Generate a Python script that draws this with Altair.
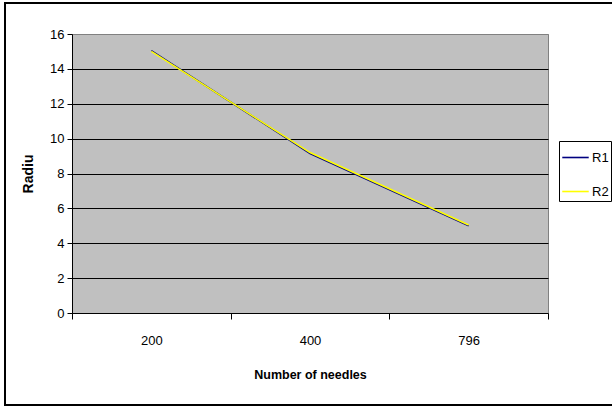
import altair as alt
import pandas as pd

needles = ["200", "400", "796"]
r1 = [15.05, 9.15, 5.0]
r2 = [15.0, 9.2, 5.05]
series_names = ["R1", "R2"]
series_colors = ["#000080", "#FFFF00"]

rows = []
for name, vals in zip(series_names, [r1, r2]):
    for n, v in zip(needles, vals):
        rows.append({"needles": n, "radius": v, "series": name})
df = pd.DataFrame(rows)

FONT = "'Liberation Sans Narrow', 'Liberation Sans', Arial, sans-serif"

frame = alt.Chart(pd.DataFrame({"a": [0]})).mark_rect(
    fill=None, stroke="black", strokeWidth=2
).encode(
    x=alt.value(-67), x2=alt.value(580), y=alt.value(-31), y2=alt.value(371)
)

lines = alt.Chart(df).mark_line(strokeWidth=1.6).encode(
    x=alt.X("needles:N", sort=needles, scale=alt.Scale(paddingInner=0, paddingOuter=0),
            axis=alt.Axis(title="Number of needles", labelAngle=0, tickBand="extent",
                          tickSize=6, tickColor="black", domainColor="black",
                          labelPadding=15, titlePadding=21,
                          labelFont=FONT, labelFontSize=13, labelColor="black",
                          titleFont=FONT, titleFontSize=12.5, titleFontWeight="bold",
                          titleColor="black")),
    y=alt.Y("radius:Q", scale=alt.Scale(domain=[0, 16], nice=False),
            axis=alt.Axis(title="Radiu", values=list(range(0, 17, 2)), tickSize=5,
                          tickColor="black", domainColor="black",
                          grid=True,
                          gridColor=alt.condition("datum.value == 16 || datum.value == 0",
                                                  alt.value("#808080"), alt.value("black")),
                          gridOpacity=1, gridWidth=1,
                          labelPadding=3, titlePadding=14,
                          labelFont=FONT, labelFontSize=13, labelColor="black",
                          titleFont=FONT, titleFontSize=14, titleFontWeight="bold",
                          titleColor="black")),
    color=alt.Color("series:N", scale=alt.Scale(domain=series_names, range=series_colors),
                    legend=alt.Legend(title=None, orient="none", legendX=487, legendY=107,
                                      symbolType="stroke", symbolSize=700,
                                      symbolStrokeWidth=1.6, strokeColor="black",
                                      padding=2, rowPadding=12,
                                      labelFont=FONT, labelFontSize=13, labelColor="black",
                                      labelOffset=2)),
    order=alt.Order("series:N")
)

chart = alt.layer(frame, lines).properties(
    width=476, height=279,
    autosize=alt.AutoSizeParams(type="none"),
    padding={"left": 72, "top": 34, "right": 64, "bottom": 95},
    background="white"
).configure_view(
    fill="#C0C0C0", stroke="#808080", strokeWidth=1
)

chart.save("out.html", embed_options={"renderer": "svg", "actions": False})
